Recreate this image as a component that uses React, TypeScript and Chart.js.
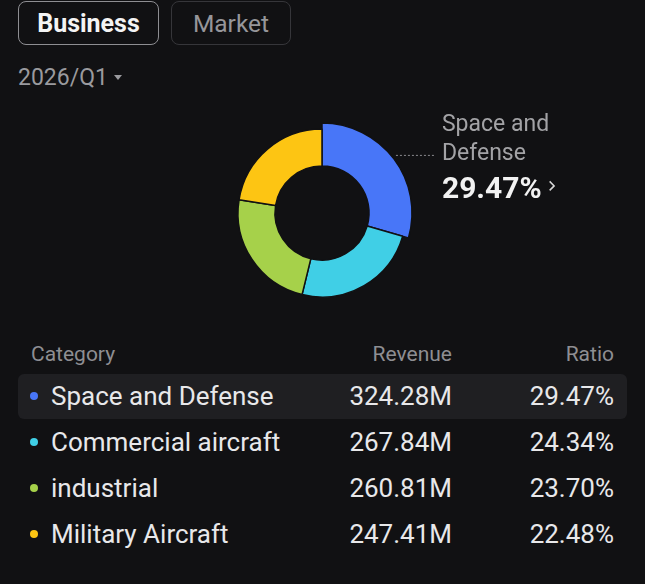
import React, { useEffect, useRef } from "react";
import { Chart, registerables } from "chart.js";

Chart.register(...registerables);

// Revenue breakdown by business segment, 2026/Q1
const categories = ["Space and Defense", "Commercial aircraft", "industrial", "Military Aircraft"];
const revenueM = [324.28, 267.84, 260.81, 247.41];
const ratioPct = [29.47, 24.34, 23.7, 22.48];
const segmentColors = ["#4876F8", "#40CFE6", "#A6D14A", "#FDC513"];
const tabs = ["Business", "Market"];
const period = "2026/Q1";
const columns = ["Category", "Revenue", "Ratio"];
const selectedIndex = 0;

const BG = "#111113";
const FONT = "Roboto, 'Noto Sans', sans-serif";

// Enlarges the selected arc and draws its callout label
const selectedArcPlugin = {
  id: "selectedArc",
  afterDatasetsUpdate(chart: any) {
    const meta = chart.getDatasetMeta(0);
    const arc = meta.data[selectedIndex];
    if (arc) arc.outerRadius = arc.outerRadius + 6;
  },
  afterDraw(chart: any) {
    const meta = chart.getDatasetMeta(0);
    const arc = meta.data[selectedIndex];
    if (!arc) return;
    const ctx = chart.ctx;
    const mid = (arc.startAngle + arc.endAngle) / 2;
    const px = arc.x + Math.cos(mid) * arc.outerRadius;
    const py = arc.y + Math.sin(mid) * arc.outerRadius;
    const lineEnd = px + 42;
    ctx.save();
    ctx.strokeStyle = "#8a8a8e";
    ctx.lineWidth = 1;
    ctx.setLineDash([2, 2]);
    ctx.beginPath();
    ctx.moveTo(px + 2, py - 3.5);
    ctx.lineTo(lineEnd, py - 3.5);
    ctx.stroke();
    ctx.setLineDash([]);

    const tx = lineEnd + 6;
    ctx.textAlign = "left";
    ctx.textBaseline = "alphabetic";
    ctx.fillStyle = "#a3a3a6";
    ctx.font = `400 23px ${FONT}`;
    const words = categories[selectedIndex].split(" ");
    const line1 = words.slice(0, 2).join(" ");
    const line2 = words.slice(2).join(" ");
    ctx.fillText(line1, tx, py - 28);
    ctx.fillText(line2, tx, py + 1);

    ctx.fillStyle = "#f2f2f2";
    ctx.font = `700 30px ${FONT}`;
    const pct = ratioPct[selectedIndex].toFixed(2) + "%";
    ctx.fillText(pct, tx, py + 39);
    const w = ctx.measureText(pct).width;
    // chevron
    const cx = tx + w + 8;
    const cy = py + 27;
    ctx.strokeStyle = "#d8d8d8";
    ctx.lineWidth = 1.5;
    ctx.beginPath();
    ctx.moveTo(cx, cy - 4.5);
    ctx.lineTo(cx + 4.5, cy);
    ctx.lineTo(cx, cy + 4.5);
    ctx.stroke();
    ctx.restore();
  },
};

function DonutChart() {
  const ref = useRef<HTMLCanvasElement | null>(null);
  useEffect(() => {
    if (!ref.current) return;
    const chart = new Chart(ref.current, {
      type: "doughnut",
      data: {
        labels: categories,
        datasets: [
          {
            data: revenueM,
            backgroundColor: segmentColors,
            borderColor: BG,
            borderWidth: 1.5,
            hoverOffset: 0,
          },
        ],
      },
      options: {
        animation: false,
        responsive: false,
        maintainAspectRatio: false,
        radius: 84,
        cutout: "56%",
        layout: { padding: { left: 0, right: 1, top: 0, bottom: 0 } },
        plugins: {
          legend: { display: false },
          tooltip: { enabled: false },
        },
        events: [],
      },
      plugins: [selectedArcPlugin],
    });
    return () => chart.destroy();
  }, []);
  return (
    <canvas
      ref={ref}
      width={645}
      height={226}
      style={{ position: "absolute", left: 0, top: 100, width: 645, height: 226 }}
    />
  );
}

function Text(props: {
  x: number;
  cy: number;
  size: number;
  color: string;
  weight?: number;
  align?: "left" | "right";
  children: React.ReactNode;
}) {
  const { x, cy, size, color, weight = 400, align = "left", children } = props;
  const style: React.CSSProperties = {
    position: "absolute",
    top: cy - size / 2 - 1,
    height: size + 2,
    lineHeight: `${size + 2}px`,
    fontSize: size,
    fontWeight: weight,
    color,
    fontFamily: FONT,
    whiteSpace: "nowrap",
  };
  if (align === "left") style.left = x;
  else style.right = 645 - x;
  return <div style={style}>{children}</div>;
}

export default function App() {
  const rowY = [395.5, 441.5, 487.5, 533.5];
  return (
    <div
      style={{
        position: "fixed",
        left: 0,
        top: 0,
        width: 645,
        height: 584,
        background: BG,
        overflow: "hidden",
        fontFamily: FONT,
      }}
    >
      {/* tabs */}
      <div
        style={{
          position: "absolute",
          left: 18,
          top: 1,
          width: 141,
          height: 44,
          boxSizing: "border-box",
          border: "1.5px solid #8e8e92",
          borderRadius: 8,
          display: "flex",
          alignItems: "center",
          justifyContent: "center",
          color: "#f4f4f4",
          fontWeight: 700,
          fontSize: 25,
        }}
      >
        {tabs[0]}
      </div>
      <div
        style={{
          position: "absolute",
          left: 171,
          top: 1,
          width: 120,
          height: 44,
          boxSizing: "border-box",
          border: "1.5px solid #36363a",
          borderRadius: 8,
          display: "flex",
          alignItems: "center",
          justifyContent: "center",
          color: "#96969a",
          fontWeight: 400,
          fontSize: 24.5,
        }}
      >
        {tabs[1]}
      </div>

      {/* period selector */}
      <Text x={18} cy={77.5} size={23} color="#9a9a9e">
        {period}
      </Text>
      <div
        style={{
          position: "absolute",
          left: 114,
          top: 75,
          width: 0,
          height: 0,
          borderLeft: "4.5px solid transparent",
          borderRight: "4.5px solid transparent",
          borderTop: "5px solid #9a9a9e",
        }}
      />

      <DonutChart />

      {/* table */}
      <Text x={31} cy={354} size={21} color="#8e8e92">
        {columns[0]}
      </Text>
      <Text x={452} cy={354} size={21} color="#8e8e92" align="right">
        {columns[1]}
      </Text>
      <Text x={614} cy={354} size={21} color="#8e8e92" align="right">
        {columns[2]}
      </Text>

      <div
        style={{
          position: "absolute",
          left: 18,
          top: 374,
          width: 609,
          height: 45,
          borderRadius: 6,
          background: "#1f1f22",
        }}
      />

      {categories.map((name, i) => (
        <React.Fragment key={name}>
          <div
            style={{
              position: "absolute",
              left: 30,
              top: rowY[i] - 3.5,
              width: 8,
              height: 8,
              borderRadius: 4,
              background: segmentColors[i],
            }}
          />
          <Text x={51} cy={rowY[i]} size={26} color="#e8e8ea">
            {name}
          </Text>
          <Text x={452} cy={rowY[i]} size={26} color="#e8e8ea" align="right">
            {revenueM[i].toFixed(2) + "M"}
          </Text>
          <Text x={614} cy={rowY[i]} size={26} color="#e8e8ea" align="right">
            {ratioPct[i].toFixed(2) + "%"}
          </Text>
        </React.Fragment>
      ))}
    </div>
  );
}
